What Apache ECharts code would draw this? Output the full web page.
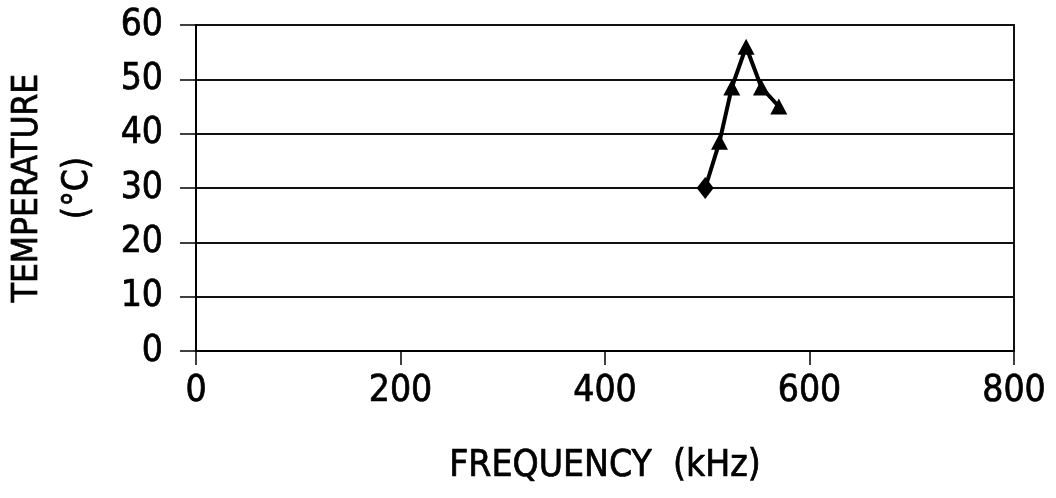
<!DOCTYPE html>
<html><head><meta charset="utf-8">
<script src="https://cdn.jsdelivr.net/npm/echarts@6/dist/echarts.min.js"></script>
<style>html,body{margin:0;padding:0;background:#fff}#c{width:1056px;height:498px}</style>
</head><body><div id="c"></div>
<script>
const frequencyKHz = [498, 512, 524, 538, 553, 570];
const temperatureC = [30, 38.5, 48.5, 56, 48.5, 45];
const markerShapes = ['diamond', 'triangle', 'triangle', 'triangle', 'triangle', 'triangle'];
const xTicks = [0, 200, 400, 600, 800];
const yTicks = [0, 10, 20, 30, 40, 50, 60];

const FONT = '"DejaVu Sans Condensed", "Liberation Sans Narrow", sans-serif';
const TXT = { fontFamily: FONT, color: '#000', textBorderColor: '#000', textBorderWidth: 0.7 };
const chart = echarts.init(document.getElementById('c'));
const data = frequencyKHz.map((f, i) => ({
  value: [f, temperatureC[i]],
  symbol: markerShapes[i],
  symbolSize: markerShapes[i] === 'diamond' ? [17, 22] : [17, 16]
}));
chart.setOption({
  animation: false,
  backgroundColor: '#fff',
  grid: { left: 196, right: 42, top: 25, bottom: 147, outerBoundsMode: 'none', containLabel: false,
          show: true, borderColor: '#111', borderWidth: 2 },
  xAxis: {
    type: 'value', min: xTicks[0], max: xTicks[xTicks.length - 1], interval: 200,
    name: 'FREQUENCY  (kHz)', nameLocation: 'middle', nameGap: 97,
    nameTextStyle: Object.assign({ fontSize: 37 }, TXT),
    axisLine: { show: true, lineStyle: { color: '#000', width: 2 } },
    axisTick: { show: true, length: 14, inside: false, lineStyle: { color: '#000', width: 1.5 } },
    axisLabel: Object.assign({ fontSize: 37, margin: 22 }, TXT),
    splitLine: { show: false }
  },
  yAxis: {
    type: 'value', min: yTicks[0], max: yTicks[yTicks.length - 1], interval: 10,
    name: 'TEMPERATURE\n(°C)', nameLocation: 'middle', nameGap: 93, nameRotate: 90,
    nameTextStyle: Object.assign({ fontSize: 35, lineHeight: 50 }, TXT),
    axisLine: { show: true, lineStyle: { color: '#000', width: 2 } },
    axisTick: { show: true, length: 16, lineStyle: { color: '#000', width: 1.5 } },
    axisLabel: Object.assign({ fontSize: 37, margin: 33 }, TXT),
    splitLine: { show: true, lineStyle: { color: '#111', width: 2 } }
  },
  series: [{
    type: 'line', data: data,
    itemStyle: { color: '#000' },
    lineStyle: { color: '#000', width: 4 }
  }]
});
</script></body></html>
